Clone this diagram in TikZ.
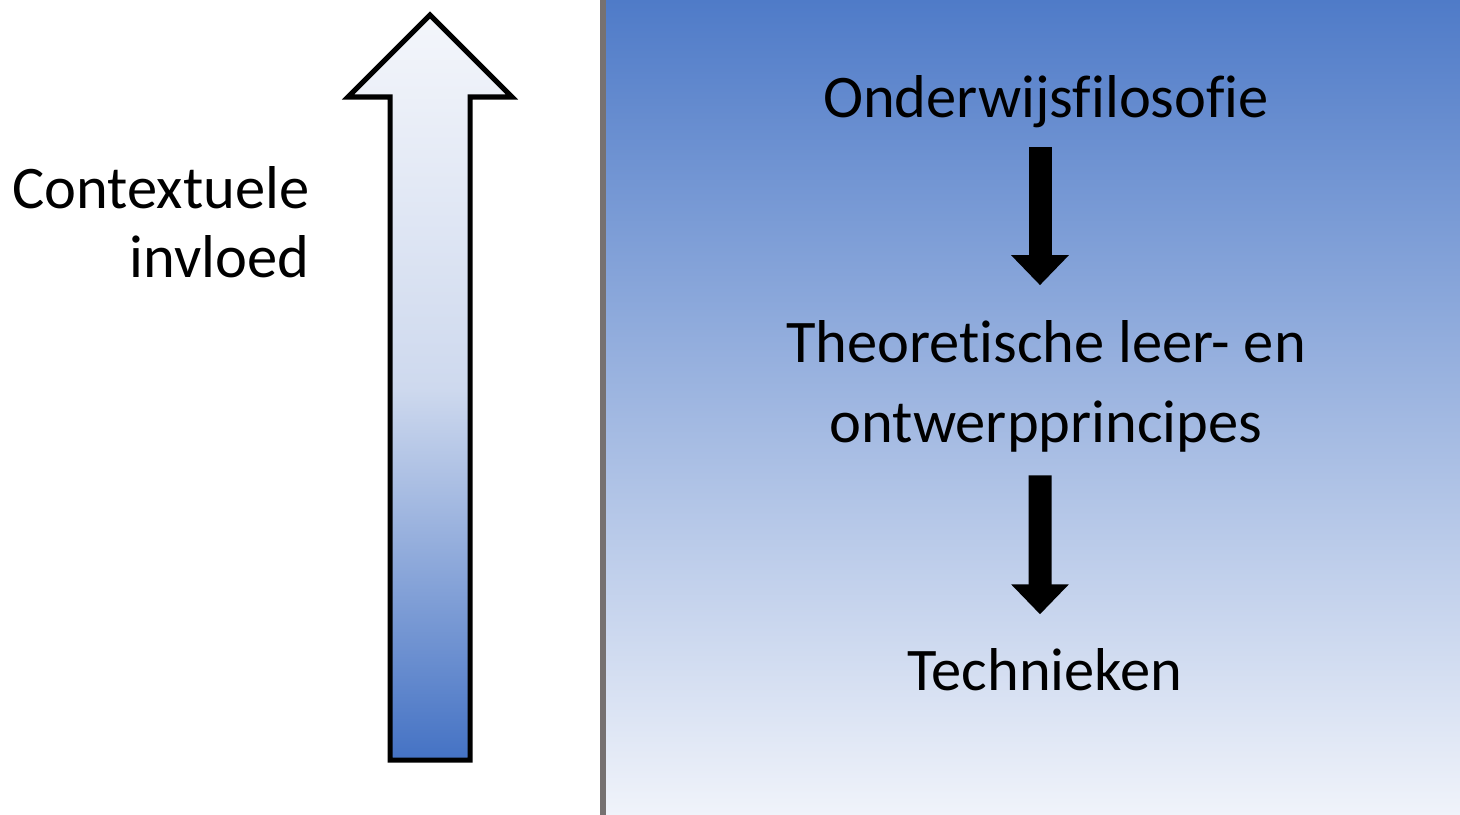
\documentclass[tikz,border=0pt]{standalone}
\usepackage{fontspec}
\setmainfont{Carlito}[Ligatures=NoCommon]
\usetikzlibrary{arrows.meta}
\definecolor{panelblue}{RGB}{79,123,200}
\definecolor{panelwhite}{RGB}{240,243,250}
\definecolor{arrowwhite}{RGB}{244,246,251}
\definecolor{arrowmid}{RGB}{206,217,238}
\definecolor{arrowblue}{RGB}{68,114,196}
\definecolor{divgrey}{RGB}{118,113,113}
\tikzset{
  stage/.style={inner sep=0pt, align=center, font=\fontsize{17.2}{22.5}\selectfont},
  flowarrow/.style={line width=0.23cm, -{Triangle[width=0.56cm,length=0.30cm]}}
}

\begin{document}
\begin{tikzpicture}[x=0.01cm,y=-0.01cm]
	  \useasboundingbox(0,0) rectangle (1460,815);
	  \shade[top color=panelblue,bottom color=panelwhite](606,0) rectangle (1460,815);
	  \draw[divgrey,line width=0.06cm](603,0) -- (603,815);
	  \draw[line width=0.05cm,line join=miter,top color=arrowwhite,bottom color=arrowblue,middle color=arrowmid]
	    (390,760) -- (390,97) -- (348,97) -- (430,15) -- (512,97) -- (470,97) -- (470,760) -- cycle;
	  \draw(310,277) node[anchor=base east,inner sep=0pt,align=right,font=\fontsize{17.2}{19.6}\selectfont](ctx) {Contextuele\\invloed};
	  \draw(1046,117) node[stage,anchor=base](filo) {Onderwijsfilosofie};
	  \draw(1046,442) node[stage,anchor=base](theo) {Theoretische leer- en\\ontwerpprincipes};
	  \draw(1045,690) node[stage,anchor=base](tech) {Technieken};
	  \draw[flowarrow,shorten <=0.19cm,shorten >=0.35cm]([xshift=-0.06cm]filo.south) -- ([xshift=-0.06cm]theo.north);
	  \draw[flowarrow,shorten <=0.23cm,shorten >=0.33cm]([xshift=-0.06cm]theo.south) -- ([xshift=-0.05cm]tech.north);
	\end{tikzpicture}
\end{document}
